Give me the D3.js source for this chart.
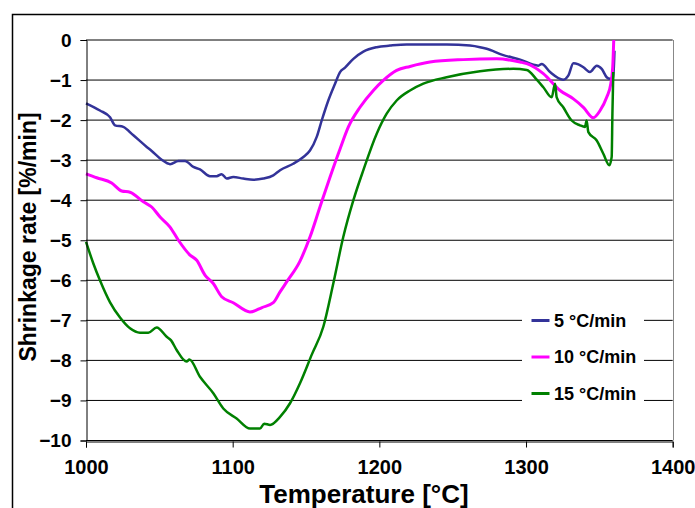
<!DOCTYPE html>
<html>
<head>
<meta charset="utf-8">
<script src="https://cdn.jsdelivr.net/npm/d3@7/dist/d3.min.js"></script>
<style>
  html, body { margin: 0; padding: 0; background: #fff; }
  svg { display: block; }
  text { font-family: "Liberation Sans", Arial, sans-serif; font-weight: bold; fill: #000; }
</style>
</head>
<body>
<svg id="chart" width="695" height="508"></svg>
<script>
// Shrinkage rate vs temperature for three heating rates
const xTicks = [1000, 1100, 1200, 1300, 1400];
const yTicks = [0, -1, -2, -3, -4, -5, -6, -7, -8, -9, -10];

const seriesNames = ["5 °C/min", "10 °C/min", "15 °C/min"];
const seriesColors = ["#333399", "#ff00ff", "#008000"];

const temp5 = [1000, 1009.5, 1016.4, 1019.8, 1025.4, 1032.3, 1041.4, 1044.8, 1051.6, 1057.3,
  1063, 1067.5, 1073.2, 1077.7, 1084.5, 1089.1, 1092.5, 1095.9, 1100.4, 1107.2,
  1114, 1120.9, 1127.7, 1132.3, 1141.3, 1148.2, 1152.7, 1157.3, 1160.7, 1165.2,
  1169.8, 1173.2, 1176.6, 1182.3, 1189.1, 1198.2, 1207.3, 1218.6, 1246, 1261.8,
  1268.6, 1273.2, 1284, 1296, 1308.4, 1310.7, 1316.4, 1325.4, 1328.8, 1332.3,
  1335.7, 1339.1, 1343.6, 1348.2, 1351.6, 1355, 1357.3, 1359.5, 1360.3];
const rate5 = [-1.58, -1.76, -1.93, -2.13, -2.17, -2.38, -2.67, -2.77, -2.99, -3.10,
  -3.02, -3.02, -3.17, -3.23, -3.40, -3.40, -3.35, -3.46, -3.42, -3.46,
  -3.49, -3.46, -3.38, -3.25, -3.09, -2.92, -2.76, -2.42, -2.01, -1.51,
  -1.09, -0.80, -0.69, -0.47, -0.29, -0.18, -0.14, -0.11, -0.11, -0.14,
  -0.18, -0.22, -0.37, -0.49, -0.64, -0.60, -0.80, -0.99, -0.89, -0.58,
  -0.61, -0.68, -0.80, -0.64, -0.72, -0.93, -0.97, -0.95, -0.27];

const temp10 = [1000, 1007.3, 1017.5, 1024.3, 1030, 1039.1, 1044.8, 1050.5, 1057.3, 1063,
  1070.9, 1075.5, 1081.1, 1086.8, 1092.5, 1100.4, 1111.8, 1120, 1127.7, 1132.3,
  1136.8, 1145.9, 1152.7, 1159.5, 1166.4, 1173.2, 1178.9, 1186.8, 1195.9, 1202.7,
  1211.8, 1220.9, 1234.5, 1257.2, 1280, 1295.9, 1300.5, 1311.8, 1323.2, 1332.3,
  1339.1, 1345.9, 1350.5, 1355, 1357.8, 1359.1, 1359.8];
const rate10 = [-3.34, -3.44, -3.57, -3.77, -3.80, -4.04, -4.17, -4.42, -4.67, -5.00,
  -5.37, -5.50, -5.87, -6.08, -6.41, -6.56, -6.79, -6.68, -6.56, -6.29,
  -6.04, -5.52, -4.92, -4.17, -3.42, -2.72, -2.17, -1.68, -1.26, -1.01,
  -0.76, -0.66, -0.55, -0.49, -0.47, -0.55, -0.59, -0.84, -1.26, -1.47,
  -1.68, -1.94, -1.76, -1.43, -1.09, -0.68, 0.0];

const temp15 = [1000, 1005, 1009.5, 1016.4, 1023.2, 1030, 1036.8, 1042.5, 1048.2, 1055,
  1058, 1061.8, 1068.6, 1070.5, 1077.7, 1086.8, 1093.6, 1102.7, 1111.8, 1118.6,
  1121.5, 1125.5, 1132.3, 1139.1, 1145.9, 1154, 1161.8, 1168.6, 1175.4, 1182.3,
  1189.1, 1198.2, 1205, 1211.8, 1220.9, 1230, 1245.9, 1268.6, 1291.3, 1300.5,
  1307.3, 1311.8, 1317.5, 1319.8, 1320.9, 1325.4, 1331.1, 1336.8, 1340.2, 1341.3,
  1342.5, 1348.2, 1352.7, 1356.8, 1358.4, 1358.9, 1359.5];
const rate15 = [-5.04, -5.58, -6.00, -6.55, -6.93, -7.20, -7.31, -7.31, -7.18, -7.41,
  -7.50, -7.74, -8.03, -7.98, -8.41, -8.82, -9.20, -9.45, -9.70, -9.70,
  -9.58, -9.61, -9.41, -9.07, -8.57, -7.85, -7.16, -6.08, -4.92, -4.00,
  -3.25, -2.34, -1.84, -1.51, -1.26, -1.09, -0.93, -0.78, -0.72, -0.75,
  -0.99, -1.18, -1.43, -1.09, -1.43, -1.68, -2.01, -2.13, -2.17, -2.01,
  -2.30, -2.51, -2.84, -3.13, -2.92, -1.84, -0.80];

const svg = d3.select("#chart");

const x = d3.scaleLinear().domain([1000, 1400]).range([86, 672.7]);
const y = d3.scaleLinear().domain([-10, 0]).range([440.5, 40]);

// outer chart frame
svg.append("rect")
  .attr("x", 12.5).attr("y", 14.5)
  .attr("width", 720).attr("height", 520)
  .attr("fill", "#fff").attr("stroke", "#000").attr("stroke-width", 1.5);

// horizontal gridlines
svg.append("g")
  .selectAll("line")
  .data(yTicks)
  .join("line")
  .attr("x1", x(1000)).attr("x2", x(1400))
  .attr("y1", d => y(d)).attr("y2", d => y(d))
  .attr("stroke", "#000").attr("stroke-width", 1);

// plot area right border
svg.append("line")
  .attr("x1", Math.round(x(1400)) + 0.5).attr("x2", Math.round(x(1400)) + 0.5)
  .attr("y1", y(0)).attr("y2", y(-10))
  .attr("stroke", "#888").attr("stroke-width", 1);

// curves
const series = [
  { t: temp5, r: rate5, w: 2.5 },
  { t: temp10, r: rate10, w: 3 },
  { t: temp15, r: rate15, w: 2.5 }
];
const line = d3.line().x(d => x(d[0])).y(d => y(d[1])).curve(d3.curveMonotoneX);
series.forEach((s, i) => {
  svg.append("path")
    .datum(s.t.map((t, k) => [t, s.r[k]]))
    .attr("d", line)
    .attr("fill", "none")
    .attr("stroke", seriesColors[i])
    .attr("stroke-width", s.w)
    .attr("stroke-linejoin", "round");
});

// y axis
const yAxis = svg.append("g")
  .attr("transform", `translate(${Math.round(x(1000)) + 0.5},0)`)
  .call(d3.axisLeft(y).tickValues(yTicks).tickSize(6).tickPadding(9).tickFormat(d3.format("d")));
yAxis.select(".domain").attr("stroke", "#000");
yAxis.selectAll(".tick line").attr("stroke", "#000");
yAxis.selectAll(".tick text").style("font-size", "19px").attr("fill", "#000");

// x axis
const xAxis = svg.append("g")
  .attr("transform", `translate(0,${Math.round(y(-10)) + 0.5})`)
  .call(d3.axisBottom(x).tickValues(xTicks).tickSize(6).tickPadding(12).tickFormat(d3.format("d")));
xAxis.select(".domain").attr("stroke", "#000");
xAxis.selectAll(".tick line").attr("stroke", "#000");
xAxis.selectAll(".tick text").style("font-size", "20px").attr("fill", "#000");

// axis titles
svg.append("text")
  .attr("x", 364).attr("y", 503)
  .attr("text-anchor", "middle")
  .style("font-size", "26px")
  .text("Temperature [°C]");

svg.append("text")
  .attr("transform", `translate(36,237) rotate(-90)`)
  .attr("text-anchor", "middle")
  .style("font-size", "23px")
  .text("Shrinkage rate [%/min]");

// legend
const legend = svg.append("g");
legend.append("rect")
  .attr("x", 522).attr("y", 303).attr("width", 122).attr("height", 107)
  .attr("fill", "#fff");
const legendRows = [320.5, 357, 393.5];
seriesNames.forEach((name, i) => {
  legend.append("line")
    .attr("x1", 531.5).attr("x2", 549.5)
    .attr("y1", legendRows[i]).attr("y2", legendRows[i])
    .attr("stroke", seriesColors[i]).attr("stroke-width", 3);
  legend.append("text")
    .attr("x", 554).attr("y", legendRows[i])
    .attr("dy", "0.36em")
    .style("font-size", "18px")
    .text(name);
});
</script>
</body>
</html>
